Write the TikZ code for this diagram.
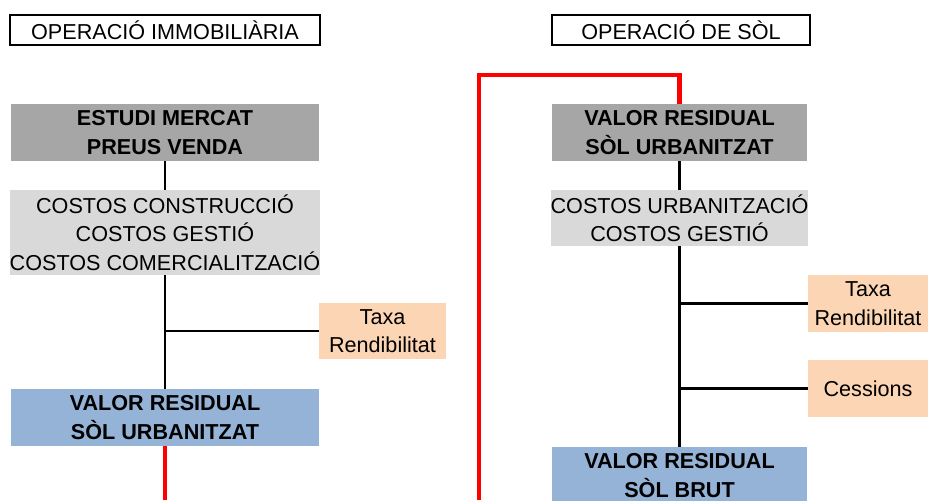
\documentclass[tikz,border=0pt]{standalone}
\usepackage{fontspec}
\setmainfont{Liberation Sans}
\usepackage{xcolor}
\usetikzlibrary{positioning}

\definecolor{marketgrey}{HTML}{A6A6A6}
\definecolor{costgrey}{HTML}{D9D9D9}
\definecolor{rateorange}{HTML}{FCD5B4}
\definecolor{valueblue}{HTML}{95B3D7}

\tikzset{
  basebox/.style={inner sep=0pt, align=center, font=\fontsize{12.3}{16.2}\selectfont},
  titlebox/.style={basebox, draw, line width=1.4pt, minimum height=0.6cm},
  greybox/.style={basebox, fill=marketgrey, font=\fontsize{12.3}{16.2}\selectfont\bfseries, minimum width=6.16cm, minimum height=1.14cm},
  costbox/.style={basebox, fill=costgrey, minimum width=6.16cm},
  ratebox/.style={basebox, fill=rateorange, minimum height=1.13cm},
  valuebox/.style={basebox, fill=valueblue, font=\fontsize{12.3}{16.2}\selectfont\bfseries, minimum width=6.16cm, minimum height=1.14cm},
  link/.style={draw, line width=1.4pt},
  redlink/.style={draw=red, line width=2.6pt}
}

\begin{document}
\begin{tikzpicture}[x=0.02cm, y=-0.02cm]
    \useasboundingbox (0,0) rectangle (928,500);

    % titles
    \node[titlebox, minimum width=6.2cm] (opImmo) at (165,30) {OPERACIÓ IMMOBILIÀRIA};
    \node[titlebox, minimum width=5.16cm] (opSol) at (681,30) {OPERACIÓ DE SÒL};

    % left column
    \node[greybox] (market) at (165,132.5) {ESTUDI MERCAT\\PREUS VENDA};
    \node[costbox, minimum height=1.7cm] (costsL) at (165,232.5) {COSTOS CONSTRUCCIÓ\\COSTOS GESTIÓ\\COSTOS COMERCIALITZACIÓ};
    \node[ratebox, minimum width=2.54cm] (rateL) at (382.5,331) {Taxa\\Rendibilitat};
    \node[valuebox] (valueL) at (165,417.5) {VALOR RESIDUAL\\SÒL URBANITZAT};

    % right column
    \node[greybox, minimum width=5.1cm] (valueR) at (679.5,132.5) {VALOR RESIDUAL\\SÒL URBANITZAT};
    \node[costbox, minimum width=5.1cm, minimum height=1.12cm] (costsR) at (679.5,218) {COSTOS URBANITZACIÓ\\COSTOS GESTIÓ};
    \node[ratebox, minimum width=2.4cm] (rateR) at (868,303.5) {Taxa\\Rendibilitat};
    \node[ratebox, minimum width=2.4cm] (cessions) at (868,388.5) {Cessions};
    \node[valuebox, minimum width=5.1cm] (brut) at (679.5,475.5) {VALOR RESIDUAL\\SÒL BRUT};

    % connectors
    \draw[link] (market.south) -- (costsL.north);
    \draw[link] (costsL.south) -- (valueL.north);
    \draw[link] (costsL.south |- rateL.west) -- (rateL.west);

    \draw[link] (valueR.south) -- (costsR.north);
    \draw[link] (costsR.south) -- (brut.north);
    \draw[link] (costsR.south |- rateR.west) -- (rateR.west);
    \draw[link] (costsR.south |- cessions.west) -- (cessions.west);

    % red link between the two operations
    \coordinate (redfootL) at (164,500);
    \coordinate (redfootR) at (479,500);
    \coordinate (redtop) at (479,75);
    \draw[redlink] (valueL.south) -- (valueL.south |- redfootL);
    \draw[redlink] (redfootR) -- (redtop) -| (valueR.north);
\end{tikzpicture}
\end{document}
